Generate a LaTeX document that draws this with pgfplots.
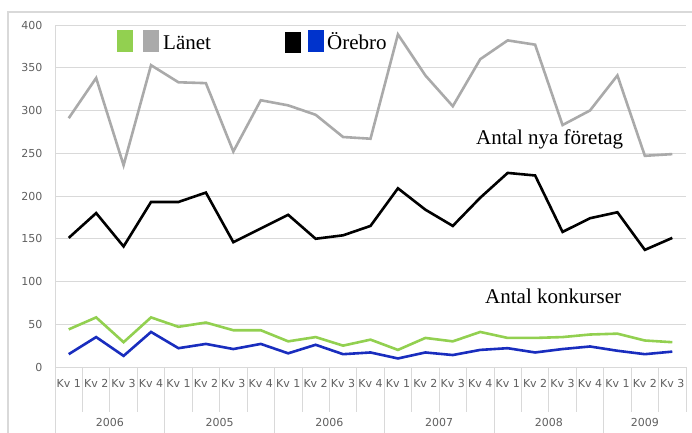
\documentclass[border=0pt]{standalone}
\usepackage{fontspec}
\setmainfont{Liberation Serif}
\newfontfamily\tickfont{DejaVu Sans}
\usepackage{pgfplots}
\usepackage{pgfplotstable}
\pgfplotsset{compat=1.18}
\definecolor{lgreen}{RGB}{146,208,80}
\definecolor{lgray}{RGB}{170,170,170}
\definecolor{oblue}{RGB}{25,45,190}
\definecolor{legblue}{RGB}{0,51,204}
\definecolor{gridc}{RGB}{217,217,217}
\definecolor{tickc}{RGB}{95,95,95}

\pgfplotstableread{
x nyaL nyaO konL konO
0 291 151 44 15
1 338 180 58 35
2 236 141 29 13
3 353 193 58 41
4 333 193 47 22
5 332 204 52 27
6 252 146 43 21
7 312 162 43 27
8 306 178 30 16
9 295 150 35 26
10 269 154 25 15
11 267 165 32 17
12 389 209 20 10
13 341 184 34 17
14 305 165 30 14
15 360 198 41 20
16 382 227 34 22
17 377 224 34 17
18 283 158 35 21
19 300 174 38 24
20 341 181 39 19
21 247 137 31 15
22 249 151 29 18
}\datatable

\begin{document}
\begin{tikzpicture}[x=1bp,y=1bp]
\useasboundingbox (0,0) rectangle (692,432);
\draw[gridc, line width=1.2bp] (8,-5) -- (8,420) -- (700,420);
\begin{axis}[
  at={(55bp,65bp)}, anchor=south west,
  scale only axis, width=631bp, height=342bp,
  xmin=-0.5, xmax=22.5, ymin=0, ymax=400,
  ytick={0,50,...,400},
  xtick={0,...,22},
  xticklabels={Kv 1,Kv 2,Kv 3,Kv 4,Kv 1,Kv 2,Kv 3,Kv 4,Kv 1,Kv 2,Kv 3,Kv 4,Kv 1,Kv 2,Kv 3,Kv 4,Kv 1,Kv 2,Kv 3,Kv 4,Kv 1,Kv 2,Kv 3},
  axis x line*=bottom, axis y line*=left,
  axis line style={gridc, line width=0.8bp},
  major tick length=0pt,
  ymajorgrids, grid style={gridc, line width=0.8bp},
  /pgf/number format/assume math mode=true,
  ticklabel style={font=\tickfont\fontsize{11bp}{13bp}\selectfont, text=tickc},
  xticklabel style={anchor=center, yshift=-16bp},
  yticklabel style={anchor=east, xshift=-9bp},
  clip=false,
]
\addplot[lgray, line width=2.6bp, mark=none] table[x=x, y=nyaL] {\datatable};
\addplot[black, line width=2.6bp, mark=none] table[x=x, y=nyaO] {\datatable};
\addplot[lgreen, line width=2.6bp, mark=none] table[x=x, y=konL] {\datatable};
\addplot[oblue, line width=2.6bp, mark=none] table[x=x, y=konO] {\datatable};
\pgfplotsinvokeforeach{0,...,23}{
  \draw[gridc, line width=0.8bp] (axis cs:#1-0.5,0) -- ++(0bp,-45bp);
}
\pgfplotsinvokeforeach{0,4,8,12,16,20}{
  \draw[gridc, line width=0.8bp] (axis cs:#1-0.5,0) -- ++(0bp,-70bp);
}
\node[font=\tickfont\fontsize{11bp}{13bp}\selectfont, text=tickc] at (axis cs:1.5,0) [yshift=-55bp] {2006};
\node[font=\tickfont\fontsize{11bp}{13bp}\selectfont, text=tickc] at (axis cs:5.5,0) [yshift=-55bp] {2005};
\node[font=\tickfont\fontsize{11bp}{13bp}\selectfont, text=tickc] at (axis cs:9.5,0) [yshift=-55bp] {2006};
\node[font=\tickfont\fontsize{11bp}{13bp}\selectfont, text=tickc] at (axis cs:13.5,0) [yshift=-55bp] {2007};
\node[font=\tickfont\fontsize{11bp}{13bp}\selectfont, text=tickc] at (axis cs:17.5,0) [yshift=-55bp] {2008};
\node[font=\tickfont\fontsize{11bp}{13bp}\selectfont, text=tickc] at (axis cs:21,0) [yshift=-55bp] {2009};
\end{axis}
\fill[lgreen] (117,380) rectangle (133,402);
\fill[lgray] (143,380) rectangle (159,402);
\node[anchor=base west, inner sep=0, font=\fontsize{21bp}{25bp}\selectfont] at (163,383) {Länet};
\fill[black] (285,379) rectangle (301,400);
\fill[legblue] (308,380) rectangle (324,402);
\node[anchor=base west, inner sep=0, font=\fontsize{21bp}{25bp}\selectfont] at (327,383) {Örebro};
\node[anchor=base west, inner sep=0, font=\fontsize{21bp}{25bp}\selectfont] at (476,288) {Antal nya företag};
\node[anchor=base west, inner sep=0, font=\fontsize{21bp}{25bp}\selectfont] at (485,129) {Antal konkurser};
\end{tikzpicture}
\end{document}
